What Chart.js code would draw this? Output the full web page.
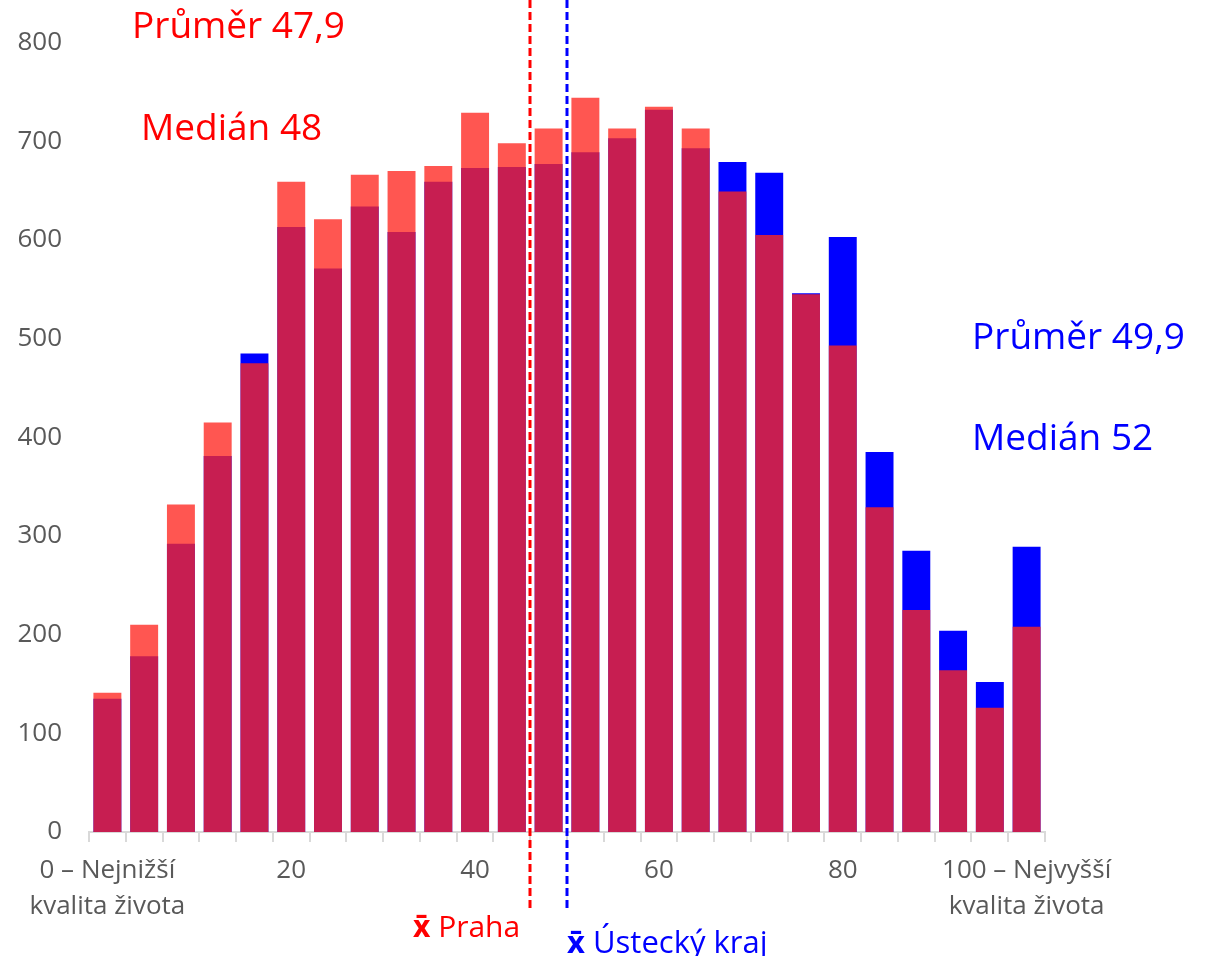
<!DOCTYPE html>
<html>
<head>
<meta charset="utf-8">
<script src="https://cdn.jsdelivr.net/npm/chart.js@4.4.1/dist/chart.umd.min.js"></script>
<style>
  html, body { margin: 0; padding: 0; background: #fff; }
  #wrap { width: 1212px; height: 956px; }
</style>
</head>
<body>
<div id="wrap"><canvas id="chart"></canvas></div>
<script>
// skóre kvality života (kategorie po 4 bodech)
const categories = ['0', '4', '8', '12', '16', '20', '24', '28', '32', '36', '40', '44', '48',
  '52', '56', '60', '64', '68', '72', '76', '80', '84', '88', '92', '96', '100'];

const prahaValues = [141, 210, 332, 415, 475, 659, 621, 666, 670, 675, 729, 698, 713,
  744, 713, 735, 713, 649, 605, 545, 493, 329, 225, 164, 126, 208];

const ustiValues = [135, 178, 292, 381, 485, 613, 571, 634, 608, 659, 673, 674, 677,
  689, 703, 732, 693, 679, 668, 546, 603, 385, 285, 204, 152, 289];

const xTickLabels = {
  '0': ['0 – Nejnižší', 'kvalita života'],
  '20': '20',
  '40': '40',
  '60': '60',
  '80': '80',
  '100': ['100 – Nejvyšší', 'kvalita života']
};

// poloha čar průměru na kategoriální ose (index)
const meanLines = [
  { pos: 11.5, color: '#FF0000' },
  { pos: 12.5, color: '#0000FF' }
];

const gray = '#595959';
const font = 'Open Sans';

const overlayPlugin = {
  id: 'overlay',
  afterDraw(chart) {
    const ctx = chart.ctx;
    const x = chart.scales.x;
    ctx.save();
    // čárkované čáry průměrů
    meanLines.forEach(l => {
      const px = Math.round(x.getPixelForValue(l.pos));
      ctx.beginPath();
      ctx.setLineDash([8, 4]);
      ctx.lineWidth = 3;
      ctx.strokeStyle = l.color;
      ctx.moveTo(px, 0);
      ctx.lineTo(px, 912);
      ctx.stroke();
    });
    ctx.setLineDash([]);

    ctx.textBaseline = 'alphabetic';
    ctx.textAlign = 'left';
    ctx.font = '37px "' + font + '"';
    ctx.fillStyle = '#FF0000';
    ctx.fillText('Průměr 47,9', 132, 38);
    ctx.fillText('Medián 48', 141, 140);
    ctx.fillStyle = '#0000FF';
    ctx.fillText('Průměr 49,9', 972, 349);
    ctx.fillText('Medián 52', 972, 450);

    // popisky čar
    const drawMean = (label, left, base, size, color) => {
      ctx.fillStyle = color;
      ctx.font = 'bold ' + size + 'px "' + font + '"';
      ctx.fillText('x\u0304', left, base);
      const w = ctx.measureText('x\u0304').width;
      ctx.font = size + 'px "' + font + '"';
      ctx.fillText(' ' + label, left + w, base);
    };
    drawMean('Praha', 413, 937, 30, '#FF0000');
    drawMean('Ústecký kraj', 567, 953, 31, '#0000FF');
    ctx.restore();
  }
};

new Chart(document.getElementById('chart'), {
  type: 'bar',
  data: {
    labels: categories,
    datasets: [
      {
        label: 'Praha',
        data: prahaValues,
        backgroundColor: 'rgba(255, 38, 32, 0.78)',
        borderWidth: 0,
        grouped: false,
        categoryPercentage: 1,
        barPercentage: 0.76
      },
      {
        label: 'Ústecký kraj',
        data: ustiValues,
        backgroundColor: '#0000FF',
        borderWidth: 0,
        grouped: false,
        categoryPercentage: 1,
        barPercentage: 0.76
      }
    ]
  },
  options: {
    responsive: true,
    maintainAspectRatio: false,
    animation: false,
    layout: {
      padding: { top: 38, right: 167, bottom: 0, left: 0 }
    },
    plugins: {
      legend: { display: false },
      tooltip: { enabled: false }
    },
    scales: {
      x: {
        grid: {
          display: true,
          drawOnChartArea: false,
          drawTicks: true,
          tickLength: 10,
          color: '#D9D9D9',
          lineWidth: 2
        },
        border: { display: true, color: '#D9D9D9', width: 2 },
        ticks: {
          autoSkip: false,
          maxRotation: 0,
          padding: 10,
          color: gray,
          font: { family: font, size: 26, lineHeight: 1.4 },
          callback: function (value) {
            const c = this.getLabelForValue(value);
            return xTickLabels[c] !== undefined ? xTickLabels[c] : '';
          }
        },
        afterFit: axis => { axis.height = 124; }
      },
      y: {
        min: 0,
        max: 800,
        grid: { display: false, drawTicks: false },
        border: { display: false },
        ticks: {
          stepSize: 100,
          padding: 27,
          color: gray,
          font: { family: font, size: 26 }
        },
        afterFit: axis => { axis.width = 89; }
      }
    }
  },
  plugins: [overlayPlugin]
});
</script>
</body>
</html>
